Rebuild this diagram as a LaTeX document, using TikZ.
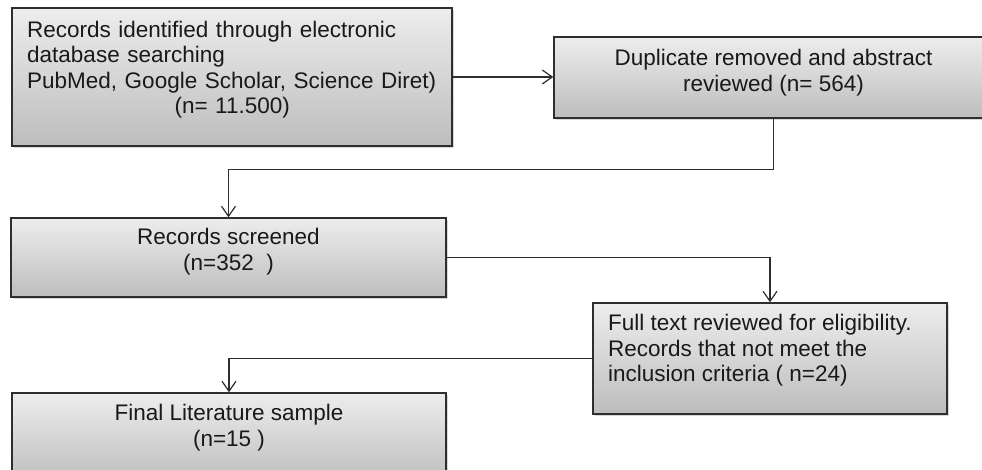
\documentclass[tikz,border=0pt]{standalone}
\usepackage{fontspec}
\setmainfont{Liberation Sans}
\usetikzlibrary{arrows.meta,shadows,calc}
\definecolor{boxtop}{HTML}{EDEDED}
\definecolor{boxbot}{HTML}{BDBDBD}
\definecolor{edge}{HTML}{2E2E2E}
\tikzset{
  flowbox/.style={draw=edge, line width=1.4pt, top color=boxtop, bottom color=boxbot,
    drop shadow={shadow xshift=1.5pt, shadow yshift=-2pt, opacity=0.3},
    inner sep=0pt, anchor=center},
  flowtxt/.style={inner sep=0pt, font=\fontsize{22.5}{25.3}\selectfont, text=black!90},
  conn/.style={draw=edge, line width=1.2pt},
  arr/.style={conn, -{Straight Barb[length=10pt,width=14pt,line width=1.2pt]}}
}
\begin{document}
\begin{tikzpicture}[x=1pt,y=-1pt]
\clip (0,0) rectangle (982,470);
\fill[white] (0,0) rectangle (982,470);
% boxes
\node[flowbox, minimum width=440pt, minimum height=138pt] (b1) at (232,77) {};
\node[flowbox, minimum width=439pt, minimum height=81pt] (b2) at (773.5,77.5) {};
\node[flowbox, minimum width=435pt, minimum height=79pt] (b3) at (228.5,257.5) {};
\node[flowbox, minimum width=354pt, minimum height=111pt] (b4) at (770,358.5) {};
\node[flowbox, minimum width=434pt, minimum height=90pt] (b5) at (229,438) {};
% texts
\node[flowtxt, anchor=north west, text width=410pt] (t1) at (27,21.2)
  {\raggedright Records identified through electronic\\ database searching\\ PubMed, Google Scholar, Science Diret)\par\centering (n= 11.500)\par};
\node[flowtxt, anchor=north, align=center] (t2) at (773.5,49.2) {Duplicate removed and abstract\\ reviewed (n= 564)};
\node[flowtxt, anchor=north, align=center] (t3) at (228.5,228.2) {Records screened\\ (n=352\ \ )};
\node[flowtxt, anchor=north west, align=left] (t4) at (608,314.2) {Full text reviewed for eligibility.\\ Records that not meet the\\ inclusion criteria ( n=24)};
\node[flowtxt, anchor=north, align=center] (t5) at (229,404.2) {Final Literature sample\\ (n=15 )};
% connectors
\draw[arr] (b1.east) -- (b2.west |- b1.east);
\draw[arr] (b2.south) -- ($(b2.south)+(0,50.5)$) -| (b3.north);
\draw[arr] (b3.east) -| (b4.north);
\draw[arr] (b4.west) -| (b5.north);
\end{tikzpicture}
\end{document}
